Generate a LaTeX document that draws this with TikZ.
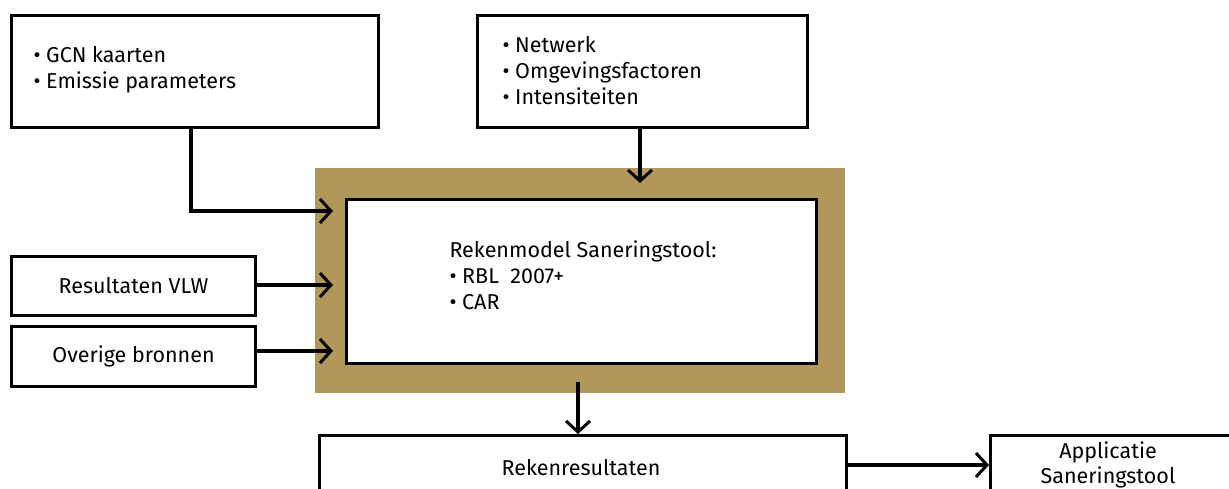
\documentclass[tikz,border=0pt]{standalone}
\usepackage{fontspec}
\setmainfont{Fira Sans}
\usetikzlibrary{arrows.meta}
\definecolor{tan}{RGB}{178,151,90}
\tikzset{
  box/.style={draw=black, line width=3pt, fill=white, rectangle, anchor=north west, inner sep=0pt},
  lbl/.style={font=\fontsize{21.5}{26}\selectfont, align=left, anchor=west},
  clbl/.style={font=\fontsize{21.5}{25}\selectfont, align=center},
  conn/.style={line width=3.5pt, -{Straight Barb[length=11pt,width=24pt,line width=3pt]}},
}
\begin{document}
\begin{tikzpicture}[x=1pt,y=-1pt]
\useasboundingbox (0,0) rectangle (1229,488);
% boxes
\node[box, minimum width=367pt, minimum height=112pt] (gcn) at (10,14) {};
\node[lbl] (gcnt) at (30,70) {• GCN kaarten\\• Emissie parameters};
\node[box, minimum width=330pt, minimum height=112pt] (net) at (476,14) {};
\node[lbl] (nett) at (499,71) {• Netwerk\\• Omgevingsfactoren\\• Intensiteiten};
\fill[tan] (315,168) rectangle (845,393);
\node[box, minimum width=470pt, minimum height=164pt] (model) at (345,198) {};
\node[lbl] (modelt) at (446,275) {Rekenmodel Saneringstool:\\• RBL\ \ 2007+\\• CAR};
\node[box, minimum width=244pt, minimum height=59pt] (vlw) at (10,255) {};
\node[clbl] (vlwt) at (vlw.center) {Resultaten VLW};
\node[box, minimum width=244pt, minimum height=60pt] (ovr) at (10,325) {};
\node[clbl] (ovrt) at (ovr.center) {Overige bronnen};
\node[box, minimum width=527pt, minimum height=70pt] (res) at (318,434) {};
\node[clbl] (rest) at (581,468) {Rekenresultaten};
\node[box, minimum width=260pt, minimum height=70pt] (app) at (989,434) {};
\node[clbl] (appt) at (1108,465) {Applicatie\\Saneringstool};
% connectors
\coordinate (m1) at (333,211);
\coordinate (m2) at (333,285);
\coordinate (m3) at (333,351);
\coordinate (mt) at (640,183);
\coordinate (mb) at (578,382);
\draw[conn] (gcn.south -| 191,0) |- (m1);
\draw[conn] (vlw.east |- m2) -- (m2);
\draw[conn] (ovr.east |- m3) -- (m3);
\draw[conn] (net.south -| mt) -- (mt);
\draw[conn] (mb) -- (res.north -| mb);
\draw[conn] (res.east |- 0,465) -- (app.west |- 0,465);
\end{tikzpicture}
\end{document}
